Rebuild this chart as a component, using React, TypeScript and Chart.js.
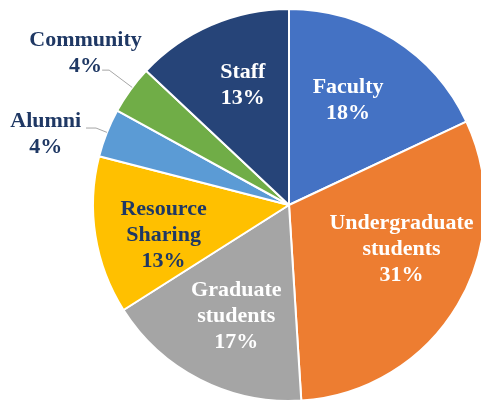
import React, { useEffect, useRef } from "react";
import { Chart, registerables } from "chart.js";

Chart.register(...registerables);

const categories = [
  "Faculty",
  "Undergraduate students",
  "Graduate students",
  "Resource Sharing",
  "Alumni",
  "Community",
  "Staff",
];
const values = [18, 31, 17, 13, 4, 4, 13];
const nameLines = [
  ["Faculty"],
  ["Undergraduate", "students"],
  ["Graduate", "students"],
  ["Resource", "Sharing"],
  ["Alumni"],
  ["Community"],
  ["Staff"],
];
const colors = ["#4472C4", "#ED7D31", "#A5A5A5", "#FFC000", "#5B9BD5", "#70AD47", "#264478"];
const textColors = ["#FFFFFF", "#FFFFFF", "#FFFFFF", "#1F3864", "#1F3864", "#1F3864", "#FFFFFF"];
// label placement: fraction along slice angle, fraction of radius
const labelAngleFrac = [0.449, 0.414, 0.479, 0.412, 0.15, 0.57, 0.556];
const labelRadiusFrac = [0.62, 0.615, 0.62, 0.657, 1.295, 1.3, 0.664];
// leader lines: [angleFrac, elbowRadiusFrac, horizontal length] or null
const leaders: (number[] | null)[] = [null, null, null, null, [0.51, 1.06, 10], [0.56, 1.147, 7], null];

const FONT = "bold 22px 'Liberation Serif', serif";
const LINE_H = 26;

const labelPlugin = {
  id: "sliceLabels",
  afterDatasetsDraw(chart: any) {
    const ctx = chart.ctx;
    const meta = chart.getDatasetMeta(0);
    ctx.save();
    meta.data.forEach((arc: any, i: number) => {
      const p = arc.getProps(["x", "y", "startAngle", "endAngle", "outerRadius"], true);
      const R = p.outerRadius;
      const ld = leaders[i];
      if (ld) {
        const a = p.startAngle + (p.endAngle - p.startAngle) * ld[0];
        const x0 = p.x + Math.cos(a) * R;
        const y0 = p.y + Math.sin(a) * R;
        const x1 = p.x + Math.cos(a) * R * ld[1];
        const y1 = p.y + Math.sin(a) * R * ld[1];
        ctx.beginPath();
        ctx.strokeStyle = "#A6A6A6";
        ctx.lineWidth = 1;
        ctx.moveTo(x0, y0);
        ctx.lineTo(x1, y1);
        ctx.lineTo(x1 - ld[2], y1);
        ctx.stroke();
      }
      const a = p.startAngle + (p.endAngle - p.startAngle) * labelAngleFrac[i];
      const r = R * labelRadiusFrac[i];
      const cx = p.x + Math.cos(a) * r;
      const cy = p.y + Math.sin(a) * r + 1.5;
      const lines = [...nameLines[i], `${values[i]}%`];
      ctx.font = FONT;
      ctx.fillStyle = textColors[i];
      ctx.textAlign = "center";
      ctx.textBaseline = "middle";
      const top = cy - ((lines.length - 1) * LINE_H) / 2;
      lines.forEach((t, j) => ctx.fillText(t, cx, top + j * LINE_H));
    });
    ctx.restore();
  },
};

export default function App() {
  const ref = useRef<HTMLCanvasElement>(null);
  useEffect(() => {
    if (!ref.current) return;
    const chart = new Chart(ref.current, {
      type: "pie",
      data: {
        labels: categories,
        datasets: [
          {
            data: values,
            backgroundColor: colors,
            borderColor: "#FFFFFF",
            borderWidth: 2,
            hoverOffset: 0,
          },
        ],
      },
      options: {
        animation: false,
        responsive: true,
        maintainAspectRatio: false,
        radius: 196,
        layout: { padding: { left: 97, right: 0, top: 9, bottom: 0 } },
        plugins: {
          legend: { display: false },
          tooltip: { enabled: false },
        },
      } as any,
      plugins: [labelPlugin],
    });
    return () => chart.destroy();
  }, []);
  return (
    <div style={{ position: "fixed", left: 0, top: 0, width: 481, height: 401, overflow: "hidden", background: "#fff" }}>
      <div style={{ position: "absolute", left: 0, top: 0, width: 481, height: 401 }}>
        <canvas ref={ref} />
      </div>
    </div>
  );
}
